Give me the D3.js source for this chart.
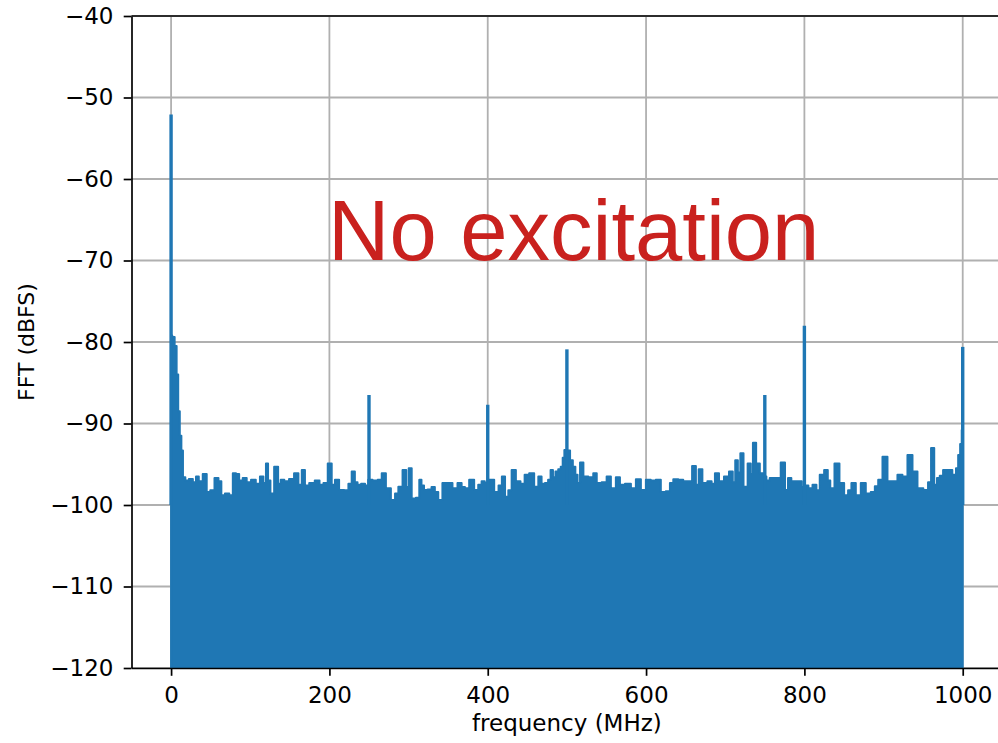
<!DOCTYPE html>
<html>
<head>
<meta charset="utf-8">
<script src="https://cdn.jsdelivr.net/npm/d3@7"></script>
<style>
  body { margin: 0; background: #fff; }
  svg { display: block; }
</style>
</head>
<body>
<div id="chart"></div>
<script>
// Tick values
const xTicks = [0, 200, 400, 600, 800, 1000];
const yTicks = [-120, -110, -100, -90, -80, -70, -60, -50, -40];

// Top of the noise floor: [frequency MHz, dBFS]
const noiseTop = [
    [0, -79.2], [3, -79.4], [6, -80.5], [8, -84], [10, -88.5], [12, -91.5], [14, -93.3], [16, -96.6],
    [20, -97.0], [25, -96.8], [30, -97.2], [33, -96.5], [37, -97.1], [43, -96.2], [47, -98.4], [52, -98.2],
    [57.7, -96.7], [62, -97.1], [65, -98.8], [71, -98.6], [76, -98.8], [80, -96.1], [84, -96.2], [88, -97.0],
    [93, -96.7], [98, -97.2], [104, -96.9], [110, -97.4], [114.5, -96.5], [118.7, -97.3], [121, -94.9],
    [124, -97], [127, -98.6], [133.4, -95.3], [137, -97.4], [140, -96.9], [146, -97.1], [152, -96.8],
    [158.7, -96.1], [163, -97.5], [167.2, -95.7], [171, -97.6], [178, -97.3], [185, -97.0], [190, -97.5],
    [195, -97.3], [200.8, -94.9], [205, -97.5], [209, -96.9], [215.5, -98.15], [222, -98.2], [226, -97.4],
    [230.3, -95.9], [234, -97.2], [237, -97.5], [243, -97.4], [247, -97.6], [251, -96.9], [258, -97.0],
    [264, -96.9], [268.2, -96.1], [274.5, -97.95], [280.8, -99.4], [285, -98.6], [289.2, -97.75],
    [295.6, -95.7], [298.5, -97.8], [301.9, -95.5], [306, -99.2], [312.5, -99.1], [314.6, -96.9],
    [318, -97.6], [321, -98.15], [327, -98.1], [331, -97.8], [335.4, -98.4], [339.6, -99.4], [345.9, -97.3],
    [352.3, -97.3], [358.6, -97.95], [365, -97.3], [369, -97.8], [373.4, -97.95], [379.7, -96.9],
    [386, -98.15], [390, -97.5], [394.5, -97.1], [398, -97.3], [405, -96.9], [411.3, -98.4], [416, -97.6],
    [419.7, -96.5], [424, -99.0], [428, -98.2], [432.4, -95.7], [438.7, -97.1], [444, -97.4], [449.2, -96.3],
    [455.5, -96.1], [461.8, -97.75], [466, -96.5], [470, -97.4], [474.5, -97.3], [478, -96.9], [480.8, -95.7],
    [484, -96.6], [487.1, -95.9], [491, -95.6], [493.4, -95.3], [496, -94.2], [497.6, -93.25], [502, -93.3],
    [506, -94.5], [509, -95.3], [512.4, -96.3], [514.5, -97.3], [518.7, -94.8], [523, -96.5], [531, -96.6],
    [535.6, -96.1], [539.8, -97.3], [548, -97.2], [552.4, -96.5], [558.7, -97.95], [565, -96.6], [569, -97.5],
    [577.7, -97.4], [584, -97.95], [590.3, -96.85], [596.6, -98.15], [602.9, -96.9], [609, -97.0],
    [615.5, -96.9], [621.8, -98.4], [628, -98.3], [632.3, -97.3], [636.5, -96.85], [644.9, -96.9],
    [649, -97.1], [655.4, -97.1], [660.9, -95.2], [665, -97.5], [668, -95.6], [674.3, -97.3], [680.6, -97.1],
    [685, -97.4], [689, -96.1], [695.3, -97.1], [701.6, -96.5], [708, -95.9], [711, -97.2], [714.3, -94.5],
    [717.6, -96.0], [720.6, -93.66], [725.6, -97.75], [731, -94.9], [733.5, -96.2], [736.5, -92.35],
    [741.6, -94.9], [745.8, -96.1], [750, -96.5], [754, -97.0], [758.4, -96.7], [766.8, -96.7],
    [773.4, -94.8], [777.6, -98.15], [781, -96.7], [786, -97.1], [794.5, -97.1], [799, -97.8], [803, -97.6],
    [807.1, -97.95], [813.4, -97.5], [817, -98.2], [821.8, -96.3], [828.1, -95.7], [831, -97], [834.4, -97.95],
    [841.6, -94.9], [847, -97.3], [853.4, -98.8], [857, -98.2], [861.8, -97.3], [868.1, -98.8], [874.4, -97.3],
    [880.7, -98.6], [887, -98.4], [891, -97.7], [895.5, -96.9], [901.8, -94.07], [908.1, -97.1],
    [914.4, -97.1], [920.7, -96.3], [927, -96.5], [933.4, -93.87], [939.7, -95.9], [946, -97.95],
    [954.4, -98.15], [958, -97.2], [962, -93.0], [966, -97.5], [969, -96.7], [973, -96.4], [977.4, -95.7],
    [983.7, -95.7], [990, -96.3], [993, -95.5], [995.5, -93.87], [998, -92.5], [999.5, -90.8], [1000, -90.8]
];

// Spurs (narrow peaks)
const spurFreq = [0, 250, 400, 500, 750, 800, 1000];
const spurLevel = [-52.1, -86.5, -87.7, -80.9, -86.5, -78.0, -80.6];

const blue = "#1f77b4";
const tickFont = "'DejaVu Sans', sans-serif";

// Set dimensions
const width = 998, height = 743;
const plot = {left: 131.5, right: 1002.3, top: 16, bottom: 668};

const svg = d3.select("#chart")
              .append("svg")
              .attr("width", width)
              .attr("height", height);

// Scales
const x = d3.scaleLinear()
            .domain([-50, 1050])
            .range([plot.left, plot.right]);

const y = d3.scaleLinear()
            .domain([-120, -40])
            .range([plot.bottom, plot.top]);

// Grid lines
const grid = svg.append("g");
grid.selectAll(".vgrid")
    .data(xTicks)
    .enter().append("line")
    .attr("x1", d => x(d)).attr("x2", d => x(d))
    .attr("y1", plot.top).attr("y2", plot.bottom)
    .attr("stroke", "#b0b0b0")
    .attr("stroke-width", 1.8);
grid.selectAll(".hgrid")
    .data(yTicks)
    .enter().append("line")
    .attr("x1", plot.left).attr("x2", plot.right)
    .attr("y1", d => y(d)).attr("y2", d => y(d))
    .attr("stroke", "#b0b0b0")
    .attr("stroke-width", 1.8);

// Noise floor, filled down to the bottom of the axes
svg.append("path")
   .datum(noiseTop)
   .attr("d", d3.area()
                .curve(d3.curveStep)
                .x(d => x(d[0]))
                .y0(y(-120))
                .y1(d => y(d[1])))
   .attr("fill", blue)
   .attr("stroke", blue)
   .attr("stroke-width", 2)
   .attr("stroke-linejoin", "round");

// Spur lines
svg.selectAll(".spur")
   .data(spurFreq)
   .enter().append("line")
   .attr("x1", d => x(d)).attr("x2", d => x(d))
   .attr("y1", y(-100))
   .attr("y2", (d, i) => y(spurLevel[i]))
   .attr("stroke", blue)
   .attr("stroke-width", 3.4);

// Axes
const minus = d => String(d).replace("-", "\u2212");

const xAxis = svg.append("g")
                 .attr("transform", `translate(0,${plot.bottom})`)
                 .call(d3.axisBottom(x).tickValues(xTicks).tickFormat(minus)
                         .tickSize(7.8).tickSizeOuter(0).tickPadding(10.9));

const yAxis = svg.append("g")
                 .attr("transform", `translate(${plot.left},0)`)
                 .call(d3.axisLeft(y).tickValues(yTicks).tickFormat(minus)
                         .tickSize(7.8).tickSizeOuter(0).tickPadding(10.2));

[xAxis, yAxis].forEach(a => {
    a.select(".domain").attr("stroke", "#000").attr("stroke-width", 1.7);
    a.selectAll(".tick line").attr("stroke", "#000").attr("stroke-width", 1.7);
    a.selectAll(".tick text")
     .attr("fill", "#000")
     .style("font-family", tickFont)
     .style("font-size", "23px");
});

// Top spine
svg.append("line")
   .attr("x1", plot.left).attr("x2", plot.right)
   .attr("y1", plot.top).attr("y2", plot.top)
   .attr("stroke", "#000")
   .attr("stroke-width", 1.7);

// Axis labels
svg.append("text")
   .attr("x", (plot.left + plot.right) / 2)
   .attr("y", 731)
   .attr("text-anchor", "middle")
   .style("font-family", tickFont)
   .style("font-size", "23px")
   .text("frequency (MHz)");

svg.append("text")
   .attr("transform", `translate(34,${(plot.top + plot.bottom) / 2}) rotate(-90)`)
   .attr("text-anchor", "middle")
   .style("font-family", tickFont)
   .style("font-size", "22px")
   .text("FFT (dBFS)");

// Annotation
svg.append("text")
   .attr("x", 328)
   .attr("y", 260)
   .attr("fill", "#c9211e")
   .style("font-family", "'Liberation Sans', Arial, sans-serif")
   .style("font-size", "85px")
   .text("No excitation");
</script>
</body>
</html>
